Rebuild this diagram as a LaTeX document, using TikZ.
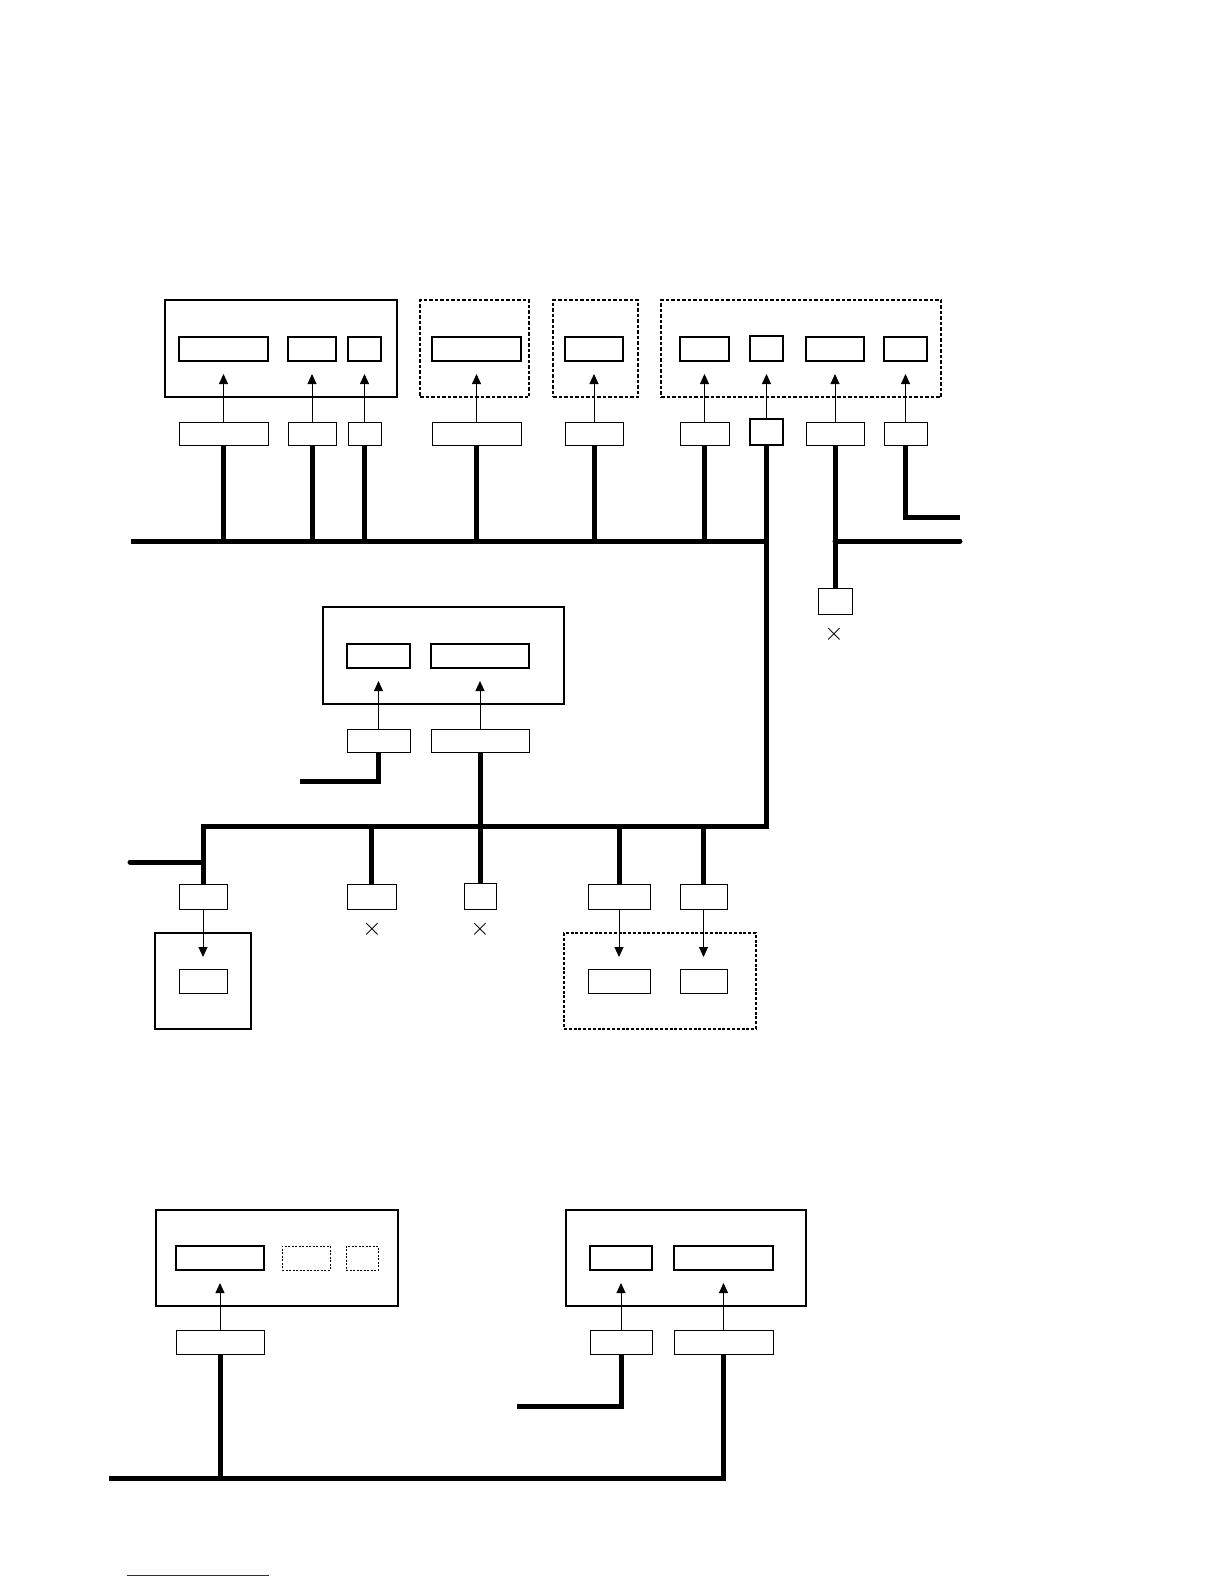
\documentclass[tikz,border=0pt]{standalone}
\usetikzlibrary{arrows.meta}
\definecolor{linkblue}{RGB}{30,30,190}
\newcommand\R[6]{\node[#1, minimum width={#5-#3}, minimum height={#6-#4}] (#2) at ({(#3+#5)/2},{(#4+#6)/2}) {};}
\begin{document}
\begin{tikzpicture}[x=1pt,y=-1pt,
  base/.style={draw, inner sep=0pt, outer sep=0pt},
  outerbox/.style={base, line width=2.2pt},
  dashbox/.style={base, line width=2.5pt, dash pattern=on 3.5pt off 2pt},
  thindash/.style={base, line width=1.6pt, dash pattern=on 3pt off 1.8pt},
  inbox/.style={base, line width=1.6pt},
  smalldash/.style={base, line width=1pt, dash pattern=on 2pt off 1.5pt},
  lowbox/.style={base, line width=1pt},
  bus/.style={line width=5pt},
  arr/.style={line width=0.9pt, -{Triangle[length=10pt,width=9pt]}},
  crossmark/.style={inner sep=0pt, font=\fontsize{27}{27}\selectfont}
]
\useasboundingbox (0,0) rectangle (1224,1584);

% ---------- top section ----------
\R{outerbox}{A}{165}{300}{397}{397}
\R{dashbox}{B}{420}{300}{529}{397}
\R{dashbox}{C}{553}{300}{638}{397}
\R{dashbox}{D}{661}{300}{941}{397}

\R{inbox}{uA1}{179}{337}{268}{361}
\R{inbox}{uA2}{288}{337}{336}{361}
\R{inbox}{uA3}{348}{337}{381}{361}
\R{inbox}{uB}{432}{337}{521}{361}
\R{inbox}{uC}{565}{337}{623}{361}
\R{inbox}{uD1}{680}{337}{729}{361}
\R{inbox}{uD2}{750}{336}{783}{361}
\R{inbox}{uD3}{806}{337}{864}{361}
\R{inbox}{uD4}{884}{337}{927}{361}

\R{lowbox}{lA1}{179}{422}{268}{445}
\R{lowbox}{lA2}{288}{422}{336}{445}
\R{lowbox}{lA3}{348}{422}{381}{445}
\R{lowbox}{lB}{432}{422}{521}{445}
\R{lowbox}{lC}{565}{422}{623}{445}
\R{lowbox}{lD1}{680}{422}{729}{445}
\R{inbox}{lD2}{750}{419}{783}{445}
\R{lowbox}{lD3}{806}{422}{864}{445}
\R{lowbox}{lD4}{884}{422}{927}{445}

\foreach \n in {A1,A2,A3,B,C,D1,D2,D3,D4}
  \draw[arr] (l\n.north) -- ([yshift=-13pt]u\n.south);

\R{lowbox}{xD}{818}{588}{852}{614}
\node[crossmark] (xDm) at (834,634) {$\times$};

\coordinate (bus1L) at (131,541);
\coordinate (bus1J) at (766.5,541);
\coordinate (bus2R) at (766.5,826);
\coordinate (bus2L) at (203,826);
\coordinate (busRA) at (835,541);
\coordinate (busRB) at (960,541);
\coordinate (stubR) at (960,517);

\draw[bus] (bus1L) -- (bus1J);
\foreach \n in {A1,A2,A3,B,C,D1}
  \draw[bus] (l\n.south) -- (l\n.south |- bus1L);
\draw[bus] (lD3.south) -- (xD.north);
\draw[bus, line cap=round] (busRA) -- (busRB);
\draw[bus] (lD4.south) -- (lD4.south |- stubR) -- (stubR);

% ---------- middle section ----------
\R{outerbox}{M}{323}{607}{564}{704}
\R{inbox}{uM1}{347}{644}{410}{668}
\R{inbox}{uM2}{431}{644}{529}{668}
\R{lowbox}{lM1}{347}{729}{410}{752}
\R{lowbox}{lM2}{431}{729}{529}{752}
\draw[arr] (lM1.north) -- ([yshift=-13pt]uM1.south);
\draw[arr] (lM2.north) -- ([yshift=-13pt]uM2.south);

\coordinate (mStub) at (300,781);
\draw[bus] (lM1.south) -- (lM1.south |- mStub) -- (mStub);

\R{lowbox}{bL}{179}{884}{227}{909}
\R{outerbox}{L}{155}{933}{251}{1029}
\R{lowbox}{iL}{179}{969}{227}{993}

\R{lowbox}{x1}{347}{884}{396}{909}
\R{lowbox}{x2}{464}{883}{496}{909}
\node[crossmark] (x1m) at (372,929) {$\times$};
\node[crossmark] (x2m) at (480,929) {$\times$};

\R{lowbox}{r1}{588}{884}{650}{909}
\R{lowbox}{r2}{680}{884}{727}{909}
\R{thindash}{N}{564}{933}{756}{1029}
\R{lowbox}{n1}{588}{969}{650}{993}
\R{lowbox}{n2}{680}{969}{727}{993}

\draw[bus] (lD2.south) -- (bus2R) -- (bus2L) -- (bL.north);
\draw[bus] (lM2.south) -- (x2.north);
\draw[bus] (x1.north) -- (x1.north |- bus2L);
\draw[bus] (r1.north) -- (r1.north |- bus2L);
\draw[bus] (r2.north) -- (r2.north |- bus2L);
\coordinate (lStub) at (130,862);
\draw[bus, line cap=round] (lStub) -- (lStub -| bL.north);

\draw[arr] (bL.south) -- ([yshift=12pt]iL.north);
\draw[arr] (r1.south) -- ([yshift=12pt]n1.north);
\draw[arr] (r2.south) -- ([yshift=12pt]n2.north);

% ---------- bottom section ----------
\R{outerbox}{P}{156}{1210}{398}{1306}
\R{inbox}{uP1}{176}{1246}{264}{1270}
\R{smalldash}{uP2}{282}{1246}{330}{1270}
\R{smalldash}{uP3}{346}{1246}{378}{1270}
\R{lowbox}{lP1}{176}{1330}{264}{1354}
\draw[arr] (lP1.north) -- ([yshift=-13pt]uP1.south);

\R{outerbox}{Q}{566}{1210}{806}{1306}
\R{inbox}{uQ1}{590}{1246}{652}{1270}
\R{inbox}{uQ2}{674}{1246}{773}{1270}
\R{lowbox}{lQ1}{590}{1330}{652}{1354}
\R{lowbox}{lQ2}{674}{1330}{773}{1354}
\draw[arr] (lQ1.north) -- ([yshift=-13pt]uQ1.south);
\draw[arr] (lQ2.north) -- ([yshift=-13pt]uQ2.south);

\coordinate (bus3L) at (109,1478);
\coordinate (qStub) at (517,1406);
\draw[bus] (bus3L) -- (bus3L -| lQ2.south) -- (lQ2.south);
\draw[bus] (lP1.south) -- (lP1.south |- bus3L);
\draw[bus] (lQ1.south) -- (lQ1.south |- qStub) -- (qStub);

% link underline
\coordinate (linkA) at (126.6,1575.7);
\coordinate (linkB) at (268.8,1575.7);
\draw[linkblue, line width=1.2pt] (linkA) -- (linkB);
\end{tikzpicture}
\end{document}
